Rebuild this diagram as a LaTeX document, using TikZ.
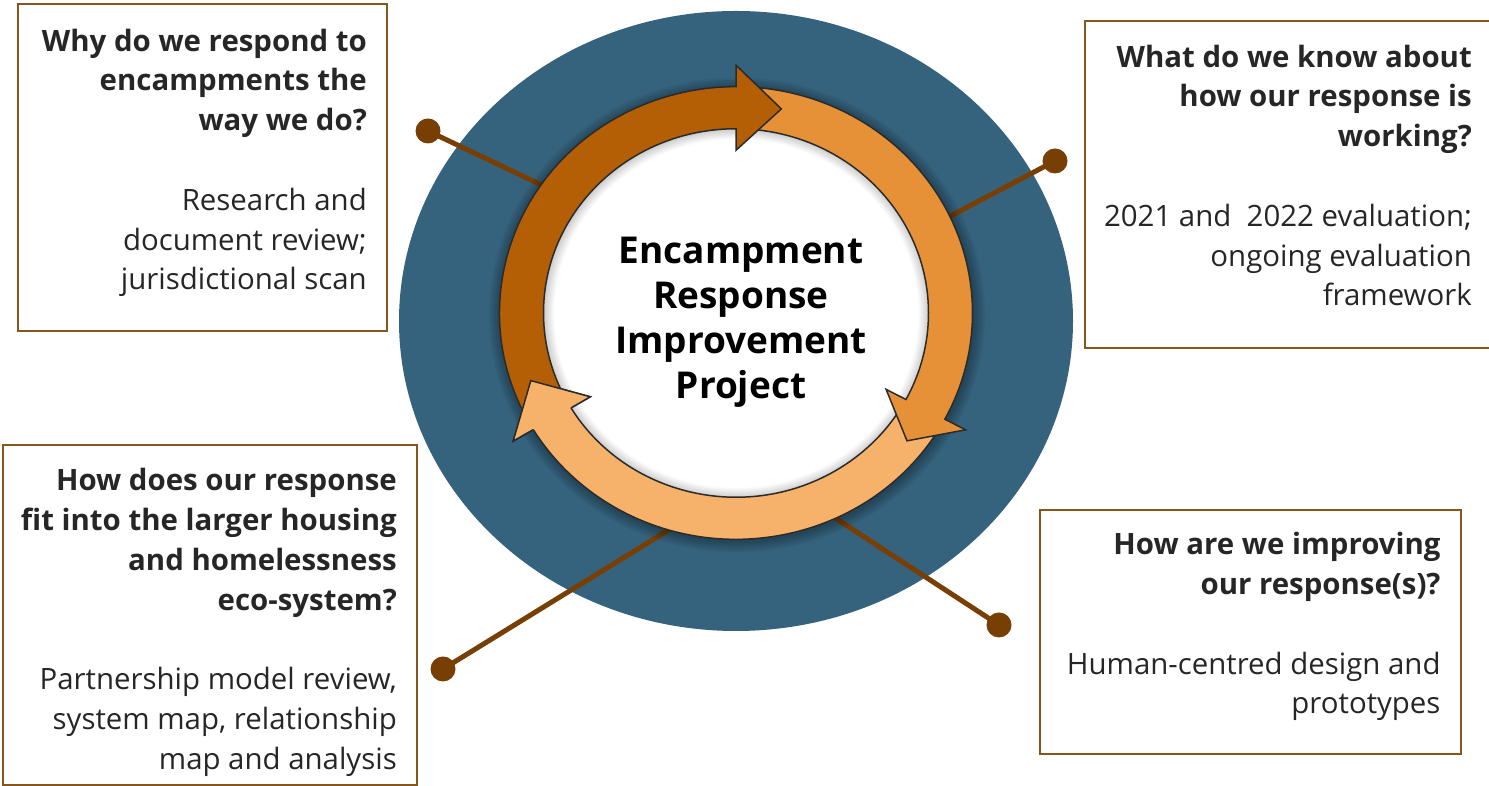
\documentclass[tikz,border=0pt]{standalone}
\usepackage{fontspec}
\setmainfont{Open Sans}
\usepackage{tikz}
\usetikzlibrary{arrows}
\definecolor{bluebg}{HTML}{35637E}
\definecolor{segdark}{HTML}{B45F06}
\definecolor{segmid}{HTML}{E69138}
\definecolor{seglight}{HTML}{F6B26B}
\definecolor{conn}{HTML}{783F04}
\definecolor{boxbrown}{HTML}{86561C}
\definecolor{txt}{HTML}{262626}
\definecolor{outl}{HTML}{2B2B2B}
\tikzstyle{enddot}=[circle, inner sep=0pt, minimum size=25pt, fill=conn]
\tikzstyle{spoke}=[draw=conn, line width=5pt]
\tikzstyle{qbox}=[draw=boxbrown, line width=2pt, rectangle, inner sep=0pt, anchor=north west]
\tikzstyle{qtext}=[anchor=base east, align=right, text=txt, inner sep=0pt,
                   font=\fontsize{29.4pt}{39.8pt}\selectfont]
\tikzstyle{seg}=[draw=outl, line width=1.5pt, line join=miter]
\pgfdeclareradialshading{innerglow}{\pgfpoint{0bp}{0bp}}{color(0bp)=(white); color(23.6bp)=(white); color(25bp)=(black!20); color(50bp)=(black!20)}

\begin{document}
\begin{tikzpicture}[
    x=1pt, y=1pt,
    every node/.style={}]

      \useasboundingbox (0,0) rectangle (1489,786);

      % disc
      \fill[bluebg] (736,465) ellipse [x radius=337, y radius=310];

      % spokes
      \node[enddot] (d1) at (428,655) {};
      \node[enddot] (d2) at (1055,625) {};
      \node[enddot] (d3) at (443,117) {};
      \node[enddot] (d4) at (999,161) {};

      \coordinate (e1) at (552,596);
      \coordinate (e2) at (941,565);
      \coordinate (e3) at (680,263);
      \coordinate (e4) at (826,274);

      \foreach \i in {1,2,3,4}
        \draw[spoke] (d\i.center) -- (e\i);

      % ring
      \begin{scope}[shift={(736,473)}, yscale=0.957]
        \foreach \r in {238,240,...,248}
          \fill[black, opacity=.05] (1,-2) circle [radius=\r];
        \shade[shading=innerglow] (0,0) circle [radius=192.5];

        \filldraw[seg, fill=seglight] (-31:236.5) arc[start angle=-31, end angle=-149, radius=236.5]
          -- (211:260) -- (199:217) -- (211:170) -- (211:192.5)
          arc[start angle=211, end angle=329, radius=192.5] -- cycle;
        \filldraw[seg, fill=segmid] (87:236.5) arc[start angle=87, end angle=-28, radius=236.5]
          -- (-28:260) -- (-38:217) -- (-28:170) -- (-28:192.5)
          arc[start angle=-28, end angle=87, radius=192.5] -- cycle;
        \filldraw[seg, fill=segdark] (208:236.5) arc[start angle=208, end angle=90, radius=236.5]
          -- (90:259) -- (78:218) -- (90:170) -- (90:192.5)
          arc[start angle=90, end angle=208, radius=192.5] -- cycle;

        \fill[seglight] (211:260) -- (199:217) -- (211:170) -- cycle;
        \draw[seg] (211:236.5) -- (211:260) -- (199:217) -- (211:170) -- (211:192.5);
      \end{scope}

      {\fontsize{37pt}{44.8pt}\selectfont
      \node[anchor=base, align=center, inner sep=0pt, font=\bfseries] (title) at (741,387.7)
        {Encampment\\ Response\\ Improvement\\ Project};
      }

      % questions
      \node[qbox, minimum width=369pt, minimum height=327pt] (whybox) at (17,783) {};
      \node[qbox, minimum width=412pt, minimum height=327pt] (knowbox) at (1084,766) {};
      \node[qbox, minimum width=414pt, minimum height=340pt] (fitbox) at (2,342) {};
      \node[qbox, minimum width=421pt, minimum height=244pt] (improvebox) at (1039,277) {};

      \node[qtext] (why) at (367,496)
        {\textbf{Why do we respond to}\\ \textbf{encampments the}\\ \textbf{way we do?}\\[39.8pt]
         Research and\\ document review;\\ jurisdictional scan};
      \node[qtext] (know) at (1472,480)
        {\textbf{What do we know about}\\ \textbf{how our response is}\\ \textbf{working?}\\[39.8pt]
         2021 and\ \ 2022 evaluation;\\ ongoing evaluation\\ framework};
      \node[qtext] (fit) at (397,16.7)
        {\textbf{How does our response}\\ \textbf{fit into the larger housing}\\ \textbf{and homelessness}\\ \textbf{eco-system?}\\[39.8pt]
         Partnership model review,\\ system map, relationship\\ map and analysis};
      \node[qtext] (improve) at (1440.7,72)
        {\textbf{How are we improving}\\ \textbf{our response(s)?}\\[39.8pt]
         Human-centred design and\\ prototypes};

    \end{tikzpicture}
\end{document}
